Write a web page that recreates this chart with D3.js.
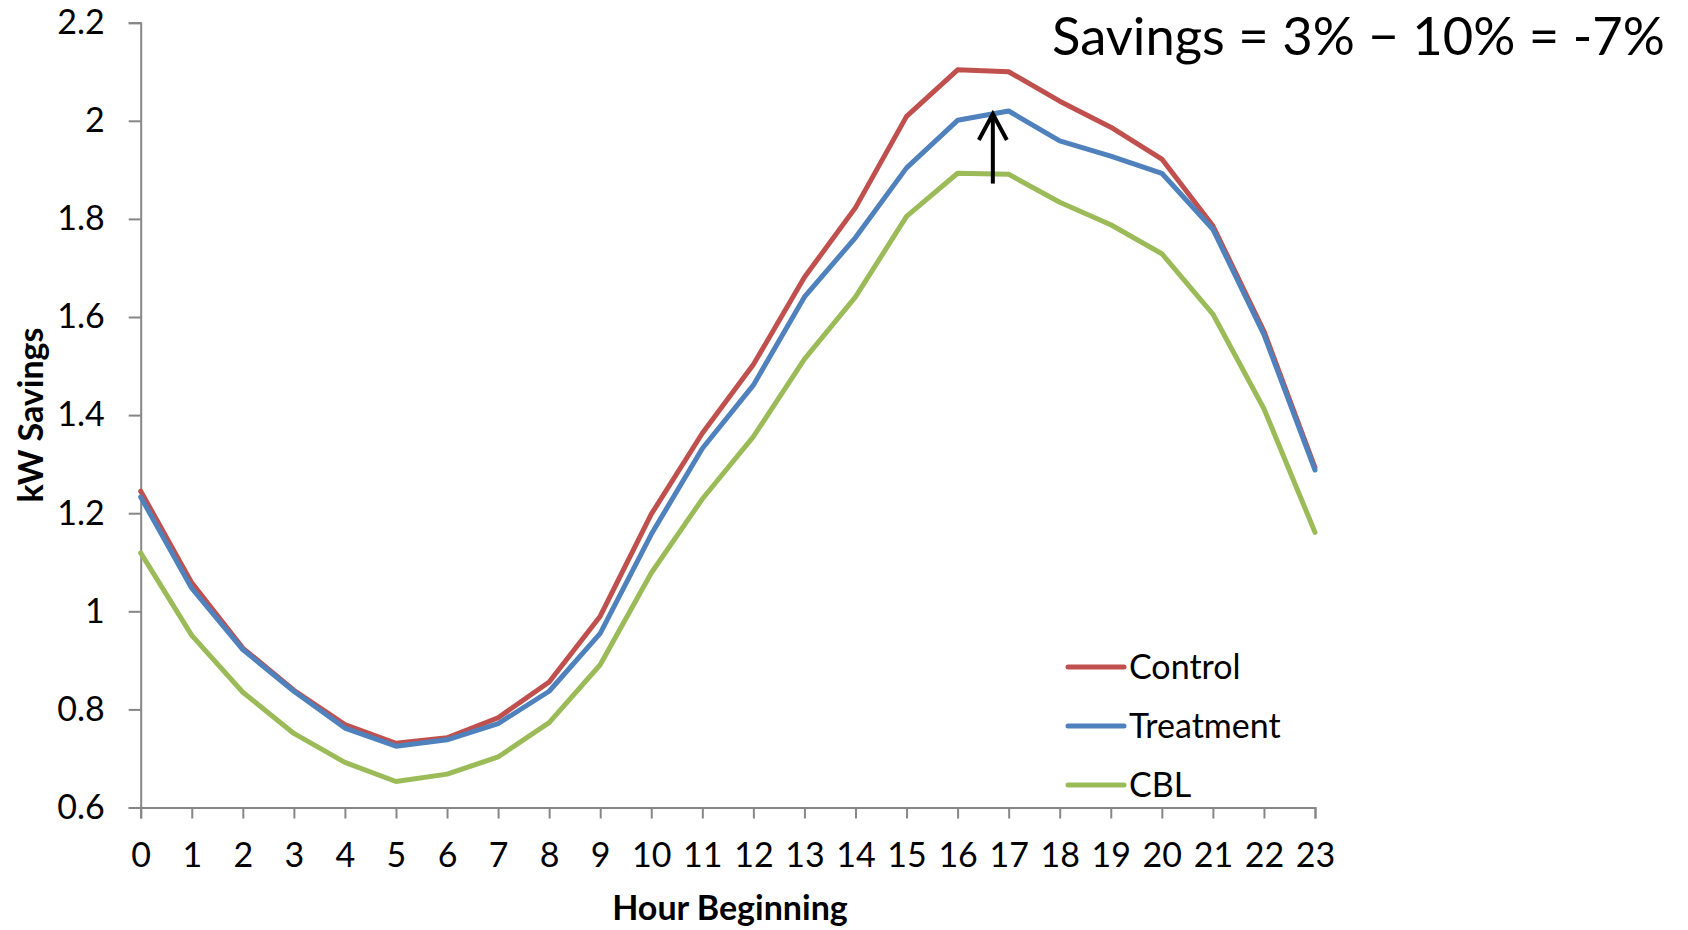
<!DOCTYPE html>
<html>
<head>
<meta charset="utf-8">
<script src="https://cdn.jsdelivr.net/npm/d3@7"></script>
<style>
  html, body { margin: 0; padding: 0; background: #fff; }
  svg { display: block; }
  text { font-family: Lato, "Open Sans", sans-serif; fill: #000; }
</style>
</head>
<body>
<svg id="chart" width="1688" height="930"></svg>
<script>
// Hourly load profile (kW) for the event day
const hours = d3.range(0, 24);
const control = [1.245, 1.058, 0.925, 0.839, 0.769, 0.731, 0.742, 0.783, 0.856, 0.990,
                 1.198, 1.363, 1.503, 1.681, 1.823, 2.009, 2.104, 2.100, 2.040, 1.987,
                 1.922, 1.786, 1.571, 1.293];
const treatment = [1.233, 1.047, 0.922, 0.837, 0.762, 0.725, 0.738, 0.771, 0.837, 0.955,
                   1.157, 1.332, 1.461, 1.641, 1.762, 1.904, 2.001, 2.020, 1.959, 1.928,
                   1.893, 1.779, 1.564, 1.288];
const cbl = [1.119, 0.951, 0.835, 0.751, 0.692, 0.653, 0.668, 0.703, 0.773, 0.891,
             1.078, 1.229, 1.356, 1.514, 1.641, 1.805, 1.893, 1.891, 1.834, 1.788,
             1.729, 1.606, 1.413, 1.161];
const seriesNames = ["Control", "Treatment", "CBL"];
const seriesColors = ["#C0504D", "#4F81BD", "#9BBB59"];
const yTicks = [0.6, 0.8, 1, 1.2, 1.4, 1.6, 1.8, 2, 2.2];
const headline = "Savings = 3% \u2212 10% = -7%";
// Arrow marking the gap between CBL and Treatment near the peak
const arrowHour = 16.69;
const arrowFrom = 1.872;
const arrowTo = 2.018;

const series = [control, treatment, cbl];

const svg = d3.select("#chart");
const x = d3.scaleLinear().domain([0, 23]).range([140.7, 1315]);
const y = d3.scaleLinear().domain([0.6, 2.2]).range([807.5, 22.7]);
const axisColor = "#868686";

// Y axis
const yAxis = svg.append("g")
  .attr("transform", `translate(${x(0)},0)`)
  .call(d3.axisLeft(y).tickValues(yTicks).tickSize(12).tickPadding(24)
    .tickFormat(d => d3.format("~g")(d)));
yAxis.select(".domain").attr("stroke", axisColor).attr("stroke-width", 2);
yAxis.selectAll(".tick line").attr("stroke", axisColor).attr("stroke-width", 2);
yAxis.selectAll(".tick text")
  .attr("font-family", "Lato, sans-serif").attr("font-size", 34).attr("fill", "#000");

// X axis
const xAxis = svg.append("g")
  .attr("transform", `translate(0,${y(0.6)})`)
  .call(d3.axisBottom(x).tickValues(hours).tickSize(11).tickPadding(24)
    .tickFormat(d3.format("d")));
xAxis.select(".domain").attr("stroke", axisColor).attr("stroke-width", 2);
xAxis.selectAll(".tick line").attr("stroke", axisColor).attr("stroke-width", 2);
xAxis.selectAll(".tick text")
  .attr("font-family", "Lato, sans-serif").attr("font-size", 34).attr("fill", "#000");

// Axis titles
svg.append("text")
  .attr("x", 730).attr("y", 920)
  .attr("text-anchor", "middle")
  .attr("font-size", 34).attr("font-weight", "bold")
  .text("Hour Beginning");
svg.append("text")
  .attr("transform", "translate(43,415) rotate(-90)")
  .attr("text-anchor", "middle")
  .attr("font-size", 34).attr("font-weight", "bold")
  .text("kW Savings");

// Series lines
const line = d3.line().x((d, i) => x(hours[i])).y(d => y(d));
series.forEach((vals, k) => {
  svg.append("path")
    .datum(vals)
    .attr("d", line)
    .attr("fill", "none")
    .attr("stroke", seriesColors[k])
    .attr("stroke-width", 5)
    .attr("stroke-linejoin", "round")
    .attr("stroke-linecap", "round");
});

// Arrow annotation
const ax = x(arrowHour), ay0 = y(arrowFrom), ay1 = y(arrowTo);
svg.append("line")
  .attr("x1", ax).attr("y1", ay0).attr("x2", ax).attr("y2", ay1 + 2)
  .attr("stroke", "#000").attr("stroke-width", 4);
svg.append("path")
  .attr("d", `M${ax - 14},${ay1 + 28} L${ax},${ay1 + 2} L${ax + 14},${ay1 + 28}`)
  .attr("fill", "none").attr("stroke", "#000").attr("stroke-width", 4);

// Legend
const legend = svg.append("g").attr("transform", "translate(1068,667)");
seriesNames.forEach((name, k) => {
  const g = legend.append("g").attr("transform", `translate(0,${k * 59})`);
  g.append("line")
    .attr("x1", 0).attr("x2", 56).attr("y1", 0).attr("y2", 0)
    .attr("stroke", seriesColors[k]).attr("stroke-width", 5)
    .attr("stroke-linecap", "round");
  g.append("text")
    .attr("x", 61).attr("y", 0).attr("dy", "0.36em")
    .attr("font-size", 34)
    .text(name);
});

// Headline, sized so it spans the space to the right of the peak
const headlineWidth = 613;
const title = svg.append("text")
  .attr("x", 1052).attr("y", 55)
  .attr("font-family", "Lato, sans-serif")
  .attr("font-size", 52)
  .text(headline);
const natural = title.node().getComputedTextLength();
if (natural > 0) title.attr("font-size", 52 * headlineWidth / natural);
</script>
</body>
</html>
